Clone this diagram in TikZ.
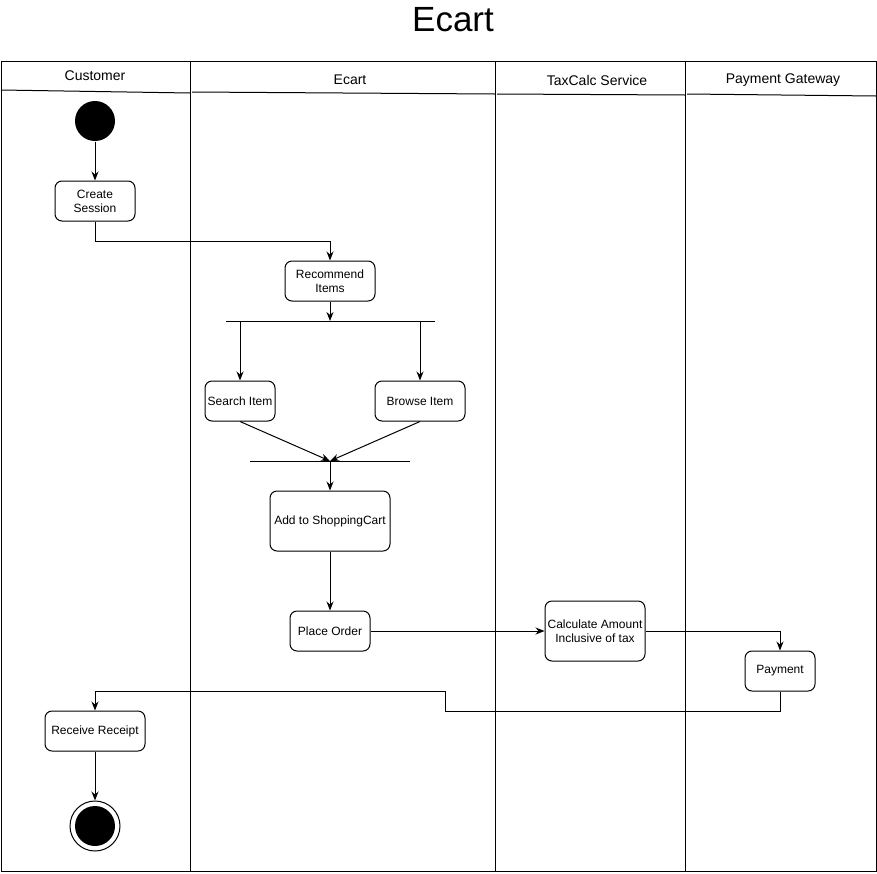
\documentclass[tikz,border=0pt]{standalone}
\usepackage{fontspec}
\setmainfont{Liberation Sans}
\usetikzlibrary{arrows.meta}
\begin{document}
\begin{tikzpicture}[x=1pt,y=-1pt,
  line width=1pt,
  act/.style={draw,rounded corners=7pt,fill=white,align=center,font=\fontsize{12}{14}\selectfont,inner sep=0pt},
  hdr/.style={font=\fontsize{14}{16}\selectfont},
  arr/.style={-{Stealth[length=9pt,width=7pt]}},
  bar/.style={line width=1pt}]
\useasboundingbox (0,0) rectangle (877,873);
% title
\node[font=\fontsize{35}{40}\selectfont] (title) at (453,20) {Ecart};
% frame and lanes
\draw (1,61) rectangle (876,871);
\draw (190,61) -- (190,871);
\draw (495,61) -- (495,871);
\draw (685,61) -- (685,871);
\draw (1,90) -- (190,93);
\draw (192,92) -- (495,94);
\draw (497,94) -- (685,95);
\draw (687,94) -- (876,96);
\node[hdr] (h1) at (95,76) {Customer};
\node[hdr] (h2) at (350,80) {Ecart};
\node[hdr] (h3) at (597,80) {TaxCalc Service};
\node[hdr] (h4) at (783,80) {Payment Gateway};
% nodes
\node[circle,fill=black,minimum size=40pt,inner sep=0pt] (start) at (95,121) {};
\node[act,minimum width=80pt,minimum height=40pt] (create) at (95,201) {Create\\Session};
\node[act,minimum width=90pt,minimum height=40pt] (rec) at (330,281) {Recommend\\Items};
\coordinate (forkL) at (226,321);
\coordinate (forkR) at (435,321);
\coordinate (fork) at (330,321);
\coordinate (forkA) at (240,321);
\coordinate (forkB) at (420,321);
\node[act,minimum width=70pt,minimum height=40pt] (search) at (240,401) {Search Item};
\node[act,minimum width=90pt,minimum height=40pt] (browse) at (420,401) {Browse Item};
\coordinate (joinL) at (250,461);
\coordinate (joinR) at (410,461);
\coordinate (join) at (330,461);
\node[act,minimum width=120pt,minimum height=60pt] (cart) at (330,521) {Add to ShoppingCart};
\node[act,minimum width=80pt,minimum height=40pt] (order) at (330,631) {Place Order};
\node[act,minimum width=100pt,minimum height=60pt] (calc) at (595,631) {Calculate Amount\\Inclusive of tax};
\node[act,minimum width=70pt,minimum height=40pt] (pay) at (780,671) {Payment};
\node[act,minimum width=100pt,minimum height=40pt] (receipt) at (95,731) {Receive Receipt};
\node[circle,draw,line width=1pt,minimum size=50pt,inner sep=0pt] (endo) at (95,826) {};
\node[circle,fill=black,minimum size=40pt,inner sep=0pt] (endi) at (95,826) {};
% bars
\draw[bar] (forkL) -- (forkR);
\draw[bar] (joinL) -- (joinR);
% connectors
\draw[arr] (start) -- (create);
\draw[arr] (create.south) |- (330,241) -- (rec.north);
\draw[arr] (rec.south) -- (fork);
\draw[arr] (forkA) -- (search.north);
\draw[arr] (forkB) -- (browse.north);
\draw[arr] (search.south) -- (join);
\draw[arr] (browse.south) -- (join);
\draw[arr] (join) -- (cart.north);
\draw[arr] (cart.south) -- (order.north);
\draw[arr] (order.east) -- (calc.west);
\draw[arr] (calc.east) -| (pay.north);
\draw[arr] (pay.south) |- (445,711) |- (95,691) -- (receipt.north);
\draw[arr] (receipt.south) -- (endo.north);
\end{tikzpicture}
\end{document}
